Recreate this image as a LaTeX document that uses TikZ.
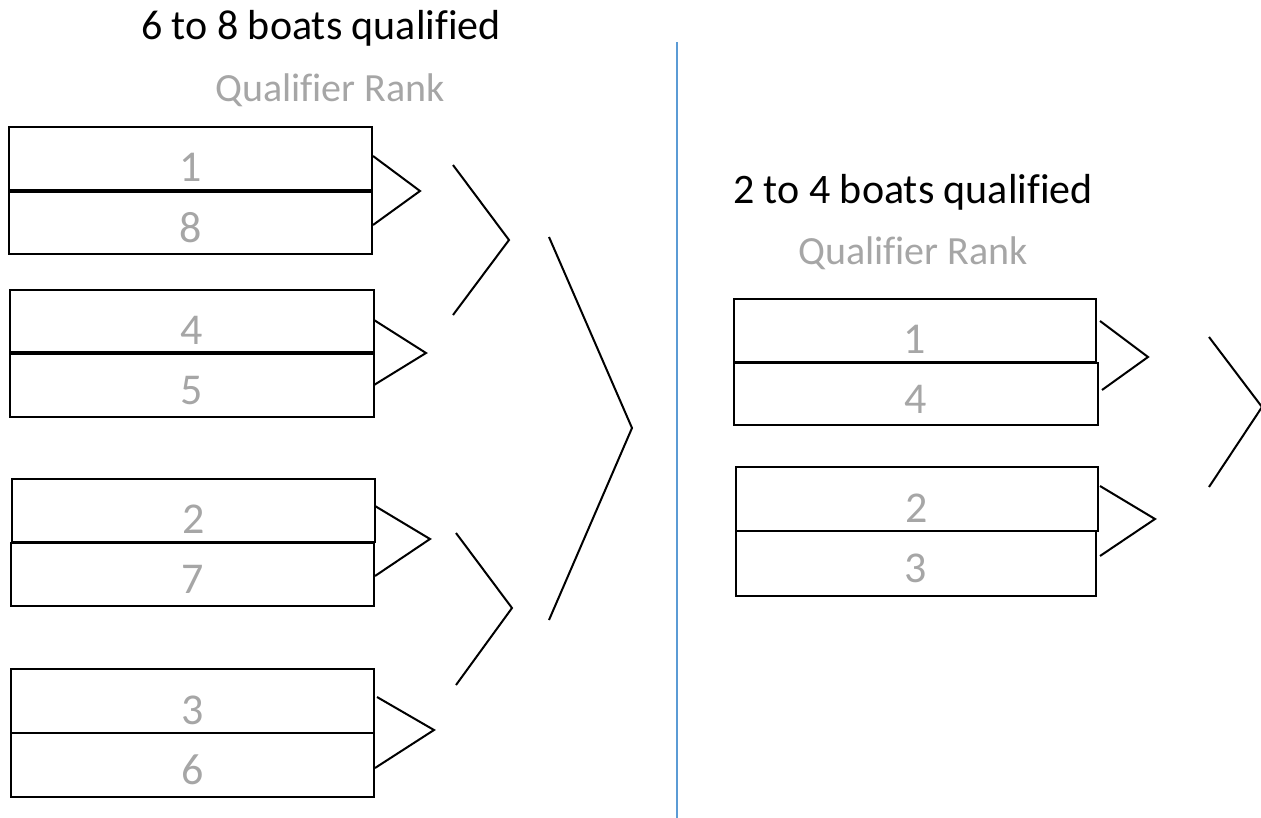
\documentclass[tikz,border=0pt]{standalone}
\usepackage{fontspec}
\setmainfont{Carlito}[Ligatures=NoCommon]
\definecolor{rankgray}{HTML}{A6A6A6}
\definecolor{divblue}{HTML}{5B9BD5}
\tikzset{
  half/.style={draw=black,line width=1.5pt,inner sep=0pt,outer sep=0pt},
  chev/.style={draw=black,line width=1.5pt},
  rank/.style={text=rankgray,font=\fontsize{33}{33}\selectfont,inner sep=0pt},
  title/.style={text=black,font=\fontsize{31.5}{31.5}\selectfont,inner sep=0pt},
  subtitle/.style={text=rankgray,font=\fontsize{30}{30}\selectfont,inner sep=0pt},
}
\newcommand{\halfbox}[7]{% name, x1,y1,x2,y2, text, vertical offset
  \path[half] (#2,#3) rectangle (#4,#5);
  \node[rank] (#1) at ({(#2+#4)/2},{(#3+#5)/2+#7}) {#6};
}
\begin{document}
\begin{tikzpicture}[x=0.75pt,y=-0.75pt]
\useasboundingbox (0,0) rectangle (1261,818);
% titles
\node[title] (t1) at (321,28) {6 to 8 boats qualified};
\node[subtitle] (q1) at (330,90) {Qualifier Rank};
\node[title] (t2) at (913,192) {2 to 4 boats qualified};
\node[subtitle] (q2) at (913,253) {Qualifier Rank};
% divider
\coordinate (vtop) at (677,42);
\coordinate (vbot) at (677,818);
\draw[divblue,line width=1.5pt] (vtop) -- (vbot);
% left boxes
\halfbox{a1}{9}{127}{372}{190}{1}{9}
\halfbox{a8}{9}{192}{372}{254}{8}{5}
\halfbox{a4}{10}{290}{374}{352}{4}{9}
\halfbox{a5}{10}{354}{374}{417}{5}{5}
\halfbox{a2}{12}{479}{375}{542}{2}{9}
\halfbox{a7}{11}{543}{374}{606}{7}{5}
\halfbox{a3}{11}{669}{374}{733}{3}{9}
\halfbox{a6}{11}{733}{374}{797}{6}{5}
% right boxes
\halfbox{b1}{734}{299}{1096}{362}{1}{9}
\halfbox{b4}{734}{363}{1098}{425}{4}{5}
\halfbox{b2}{736}{467}{1098}{531}{2}{9}
\halfbox{b3}{736}{531}{1096}{596}{3}{5}
% chevrons
\draw[chev] (373,156) -- (420,191) -- (373,225);
\draw[chev] (374,320) -- (426,353) -- (374,385);
\draw[chev] (375,506) -- (430,539) -- (375,576);
\draw[chev] (377,697) -- (434,730) -- (375,768);
\draw[chev] (453,165) -- (509,240) -- (453,315);
\draw[chev] (456,533) -- (512,608) -- (456,685);
\draw[chev] (549,237) -- (632,428) -- (549,620);
\draw[chev] (1100,321) -- (1148,357) -- (1102,390);
\draw[chev] (1100,486) -- (1155,519) -- (1100,556);
\draw[chev] (1209,337) -- (1262,407) -- (1209,487);
\end{tikzpicture}
\end{document}
